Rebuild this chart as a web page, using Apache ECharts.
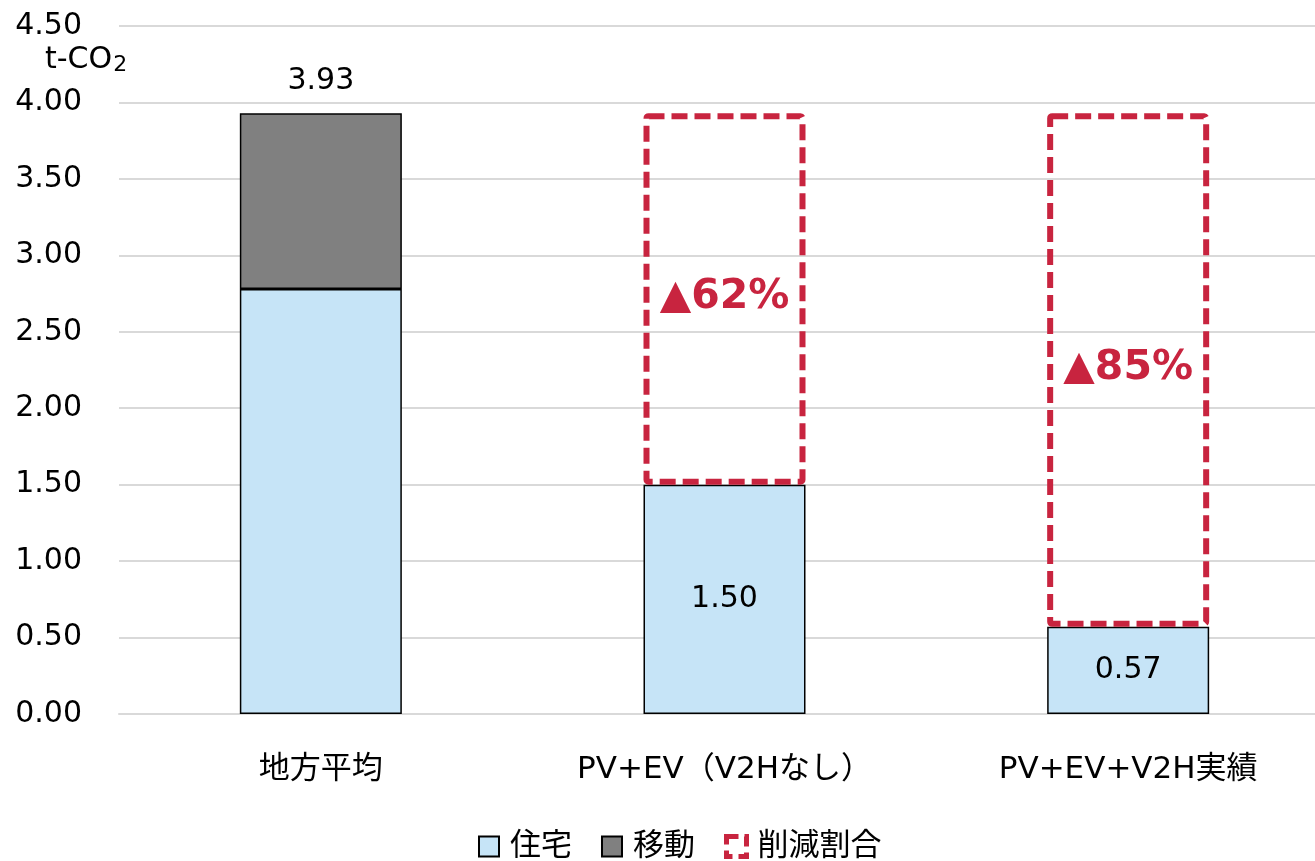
<!DOCTYPE html>
<html>
<head>
<meta charset="utf-8">
<script src="https://cdn.jsdelivr.net/npm/echarts@6/dist/echarts.min.js"></script>
<style>
  html, body { margin: 0; padding: 0; background: #fff; }
  #chart { width: 1315px; height: 861px; }
</style>
</head>
<body>
<div id="chart"></div>
<script>
// データ
const categories = ['地方平均', 'PV+EV（V2Hなし）', 'PV+EV+V2H実績']
const housing = [2.78, 1.50, 0.57]
const mobility = [1.15, null, null]
const reduction = [null, 2.43, 3.36]
const reductionLabels = ['', '▲62%', '▲85%']
const totalLabels = ['3.93', '', '']
const housingLabels = ['', '1.50', '0.57']

const FONT = '"DejaVu Sans", "Noto Sans CJK JP", sans-serif'
const RED = '#C8243F'

const chart = echarts.init(document.getElementById('chart'))
const option = {
  animation: false,
  textStyle: { fontFamily: FONT },
  grid: { left: 119, top: 26, right: -15, height: 688, outerBoundsMode: 'none', containLabel: false },
  graphic: [
    {
      type: 'text',
      left: 45,
      top: 45,
      style: {
        text: '{a|t-CO}{b|2}',
        rich: {
          a: { fontSize: 30, fontFamily: FONT, fill: '#000' },
          b: { fontSize: 22, fontFamily: FONT, fill: '#000', padding: [10, 0, 0, 1] }
        }
      }
    }
  ],
  legend: {
    left: 473,
    top: 826,
    icon: 'rect',
    itemWidth: 20,
    itemHeight: 20,
    itemGap: 29,
    textStyle: { fontSize: 31, color: '#000', fontFamily: FONT, padding: [0, 0, 0, 6] },
    data: [
      '住宅',
      '移動',
      { name: '削減割合', itemStyle: { borderWidth: 5, borderType: [12, 6], borderColor: RED } }
    ]
  },
  xAxis: {
    type: 'category',
    data: categories,
    axisLine: { show: true, lineStyle: { color: '#d9d9d9', width: 2 } },
    axisTick: { show: false },
    axisLabel: { fontSize: 31, color: '#000', margin: 40, fontFamily: FONT }
  },
  yAxis: {
    type: 'value',
    min: 0,
    max: 4.5,
    interval: 0.5,
    axisLine: { show: false },
    axisTick: { show: false },
    splitLine: { lineStyle: { color: '#d9d9d9', width: 2 } },
    axisLabel: {
      fontSize: 30,
      color: '#000',
      margin: 37,
      fontFamily: FONT,
      formatter: v => v.toFixed(2)
    }
  },
  series: [
    {
      name: '住宅',
      type: 'bar',
      stack: 'total',
      barWidth: 162,
      data: housing,
      itemStyle: { color: '#C6E4F7', borderColor: '#000', borderWidth: 1.5 },
      label: {
        show: true,
        position: 'inside',
        fontSize: 30,
        color: '#000',
        fontFamily: FONT,
        formatter: p => housingLabels[p.dataIndex]
      }
    },
    {
      name: '移動',
      type: 'bar',
      stack: 'total',
      data: mobility,
      itemStyle: { color: '#808080', borderColor: '#000', borderWidth: 1.5 },
      label: {
        show: true,
        position: 'top',
        distance: 17,
        fontSize: 30,
        color: '#000',
        fontFamily: FONT,
        formatter: p => totalLabels[p.dataIndex]
      }
    },
    {
      name: '削減割合',
      type: 'bar',
      stack: 'total',
      data: reduction,
      itemStyle: {
        color: 'rgba(255,255,255,0)',
        borderColor: RED,
        borderWidth: 6,
        borderType: [16, 7],
        borderRadius: 2
      },
      label: {
        show: true,
        position: 'inside',
        offset: [0, -2],
        fontSize: 41,
        fontWeight: 'bold',
        color: RED,
        fontFamily: FONT,
        formatter: p => reductionLabels[p.dataIndex]
      }
    }
  ]
}
chart.setOption(option)
</script>
</body>
</html>
